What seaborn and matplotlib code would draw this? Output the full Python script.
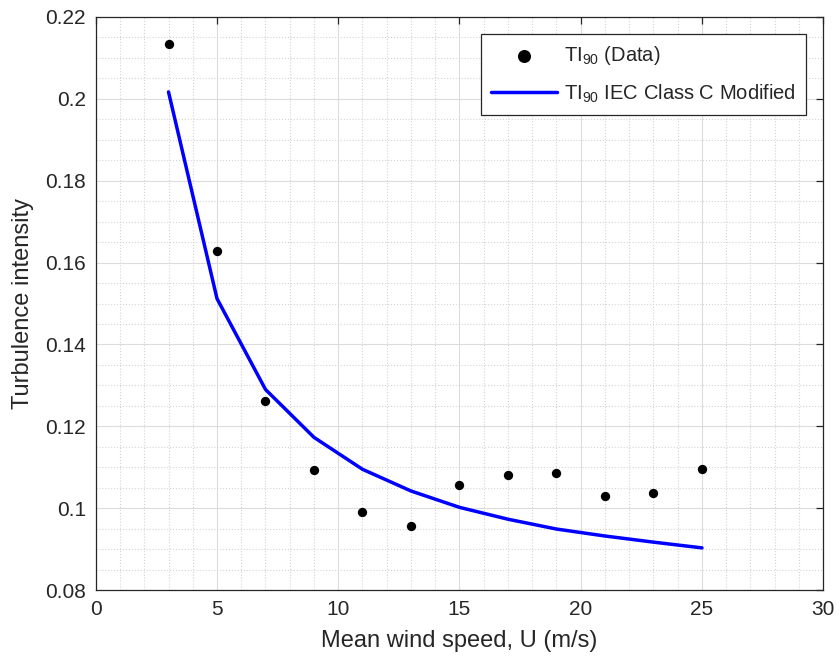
import numpy as np
import pandas as pd
import matplotlib
matplotlib.use("Agg")
import matplotlib.pyplot as plt
import seaborn as sns
from matplotlib.ticker import MultipleLocator

# Data
wind_speed = [3, 5, 7, 9, 11, 13, 15, 17, 19, 21, 23, 25]
ti90_data = [0.2134, 0.1629, 0.1263, 0.1093, 0.0990, 0.0956,
             0.1056, 0.1082, 0.1087, 0.1029, 0.1037, 0.1095]
ti90_iec = [0.2017, 0.1512, 0.1290, 0.1173, 0.1095, 0.1042,
            0.1002, 0.0973, 0.0949, 0.0932, 0.0917, 0.0903]

df = pd.DataFrame({"U": wind_speed, "data": ti90_data, "iec": ti90_iec})

sns.set_style("whitegrid")
plt.rcParams['font.family'] = ['Liberation Sans', 'DejaVu Sans']
plt.rcParams['mathtext.fontset'] = 'custom'
plt.rcParams['mathtext.rm'] = 'Liberation Sans'
plt.rcParams['mathtext.it'] = 'Liberation Sans'

fig = plt.figure(figsize=(8.4, 6.64), dpi=100)
ax = fig.add_axes([0.114, 0.1114, 0.866, 0.8630])

sns.scatterplot(data=df, x="U", y="data", ax=ax, color="black", s=45,
                edgecolor="black", linewidth=0, label="TI$_{90}$ (Data)", zorder=3)
sns.lineplot(data=df, x="U", y="iec", ax=ax, color="#0000ff", linewidth=2.5,
             label="TI$_{90}$ IEC Class C Modified", zorder=2)

ax.set_xlim(0, 30)
ax.set_ylim(0.08, 0.22)
ax.xaxis.set_major_locator(MultipleLocator(5))
ax.xaxis.set_minor_locator(MultipleLocator(1))
ax.yaxis.set_minor_locator(MultipleLocator(0.005))
ax.set_yticks([0.08, 0.1, 0.12, 0.14, 0.16, 0.18, 0.2, 0.22])
ax.set_yticklabels(["0.08", "0.1", "0.12", "0.14", "0.16", "0.18", "0.2", "0.22"])

ax.grid(which="major", color="#dcdcdc", linestyle="-", linewidth=0.8)
ax.grid(which="minor", color="#d4d4d4", linestyle=":", linewidth=0.8)
ax.set_axisbelow(True)

for s in ax.spines.values():
    s.set_color("#262626")
    s.set_linewidth(0.9)
    s.set_visible(True)
ax.tick_params(which="major", direction="in", length=5, width=0.9, color="#262626",
               top=True, right=True, labelsize=15, labelcolor="#262626", pad=7)
ax.tick_params(which="minor", length=0, top=True, right=True)

ax.set_xlabel("Mean wind speed, U (m/s)", fontsize=17, color="#262626", labelpad=8)
ax.set_ylabel("Turbulence intensity", fontsize=17, color="#262626", labelpad=8)

leg = ax.legend(loc="upper right", fontsize=14.5, frameon=True, fancybox=False,
                edgecolor="#262626", framealpha=1, borderaxespad=0.85,
                handlelength=3.3, handletextpad=0.35, labelspacing=0.75,
                markerscale=1.4, borderpad=0.5)
leg.get_frame().set_linewidth(0.9)

fig.savefig("out.png", dpi=100)
